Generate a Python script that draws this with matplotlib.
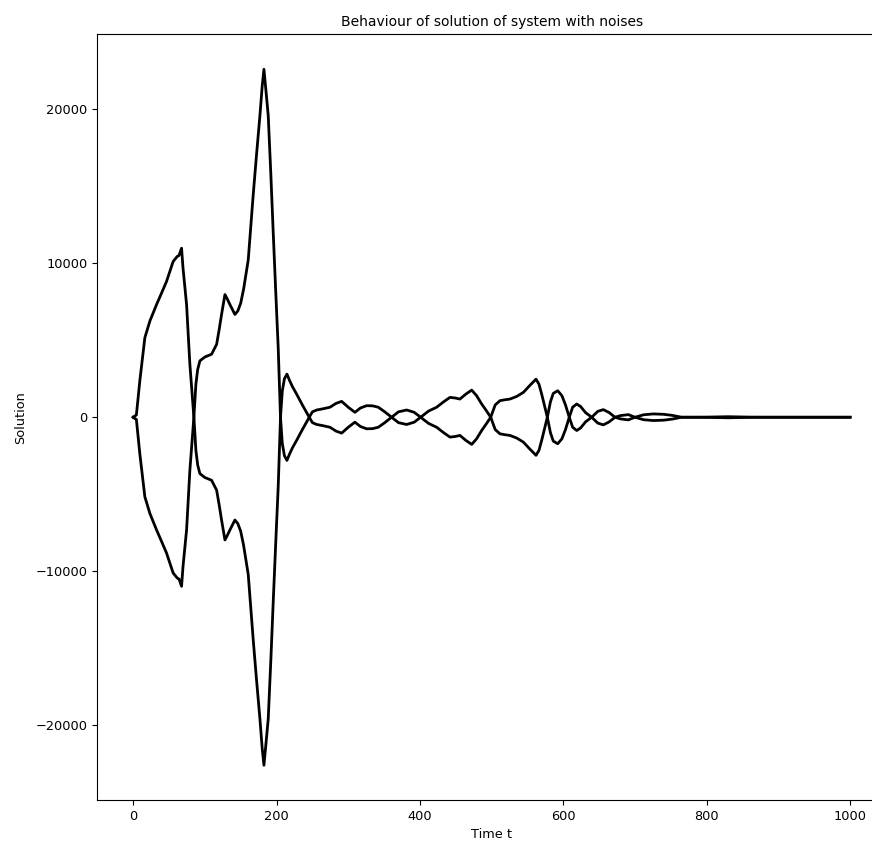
### Solution of the noisy system, plotted with its mirror image

import numpy as np
import matplotlib
matplotlib.use('Agg')
import matplotlib.pyplot as plt

### time points and solution values
t = [0, 4.5, 9.3, 16.3, 23.3, 32.6, 40, 46.6, 55.8, 61.4, 64, 67.5, 69.5,
     74.5, 79.1, 84.7, 87.5, 90, 93.1, 100, 109.4, 116.4, 120, 123.3, 128,
     131, 135, 141.9, 146, 150, 154, 160.5, 167.4, 172, 176.8, 180, 182.4,
     185, 188.4, 192, 195.3, 199, 202.3, 205.5, 208, 211, 214.5, 218, 222,
     228, 236, 245.6, 250, 256, 265, 274.5, 283, 290.8, 300, 309.3, 317,
     325.6, 334, 341.9, 351, 360.5, 370, 381.5, 392, 401, 412, 423.3, 433,
     441.9, 449, 455.8, 464, 472.2, 479, 486.1, 493, 498.7, 505, 511.6, 518,
     525.6, 535, 544.2, 553, 561.9, 566, 569.8, 573.5, 577.7, 582, 586,
     592.2, 598, 603, 608.3, 613, 618.7, 624, 631, 639.6, 648, 655.8, 664,
     672.1, 680, 690.7, 700, 712, 725.5, 740, 752, 765, 790, 830, 870, 1000]

x = [0, 150, 2370, 5160, 6240, 7310, 8100, 8820, 10110, 10430, 10500, 10970,
     9700, 7310, 3440, 0, -2150, -3100, -3660, -3910, -4090, -4730, -5700,
     -6670, -7960, -7700, -7310, -6670, -6900, -7400, -8300, -10200, -14410,
     -17000, -19570, -21500, -22580, -21300, -19570, -15800, -12040, -8000,
     -4520, 0, 1700, 2500, 2800, 2400, 2000, 1500, 800, 0, -350, -470, -550,
     -650, -900, -1030, -650, -320, -600, -750, -740, -650, -350, 0, 350,
     470, 320, 0, -400, -650, -1000, -1290, -1250, -1180, -1500, -1760,
     -1400, -860, -400, 0, 800, 1075, 1130, 1180, 1350, 1610, 2050, 2470,
     2150, 1500, 800, 0, -1000, -1550, -1720, -1400, -800, 0, 650, 860, 700,
     300, 0, -380, -495, -300, 0, 110, 170, 0, -160, -215, -190, -120, 0, 0,
     35, 0, 0]

t = np.array(t)
x = np.array(x)

### plotting
fig = plt.figure(figsize=(8.72, 8.49), dpi=100)
ax = fig.add_axes([0.1116, 0.0577, 0.9044, 0.9017])

ax.plot(t, x, 'k-', linewidth=2.0)
ax.plot(t, -x, 'k-', linewidth=2.0)

ax.set_title('Behaviour of solution of system with noises', fontsize=10)
ax.set_xlabel('Time t', fontsize=9.3)
ax.set_ylabel('Solution', fontsize=9.3, labelpad=6)
ax.tick_params(labelsize=9.3)

plt.savefig('out.png', dpi=100)
